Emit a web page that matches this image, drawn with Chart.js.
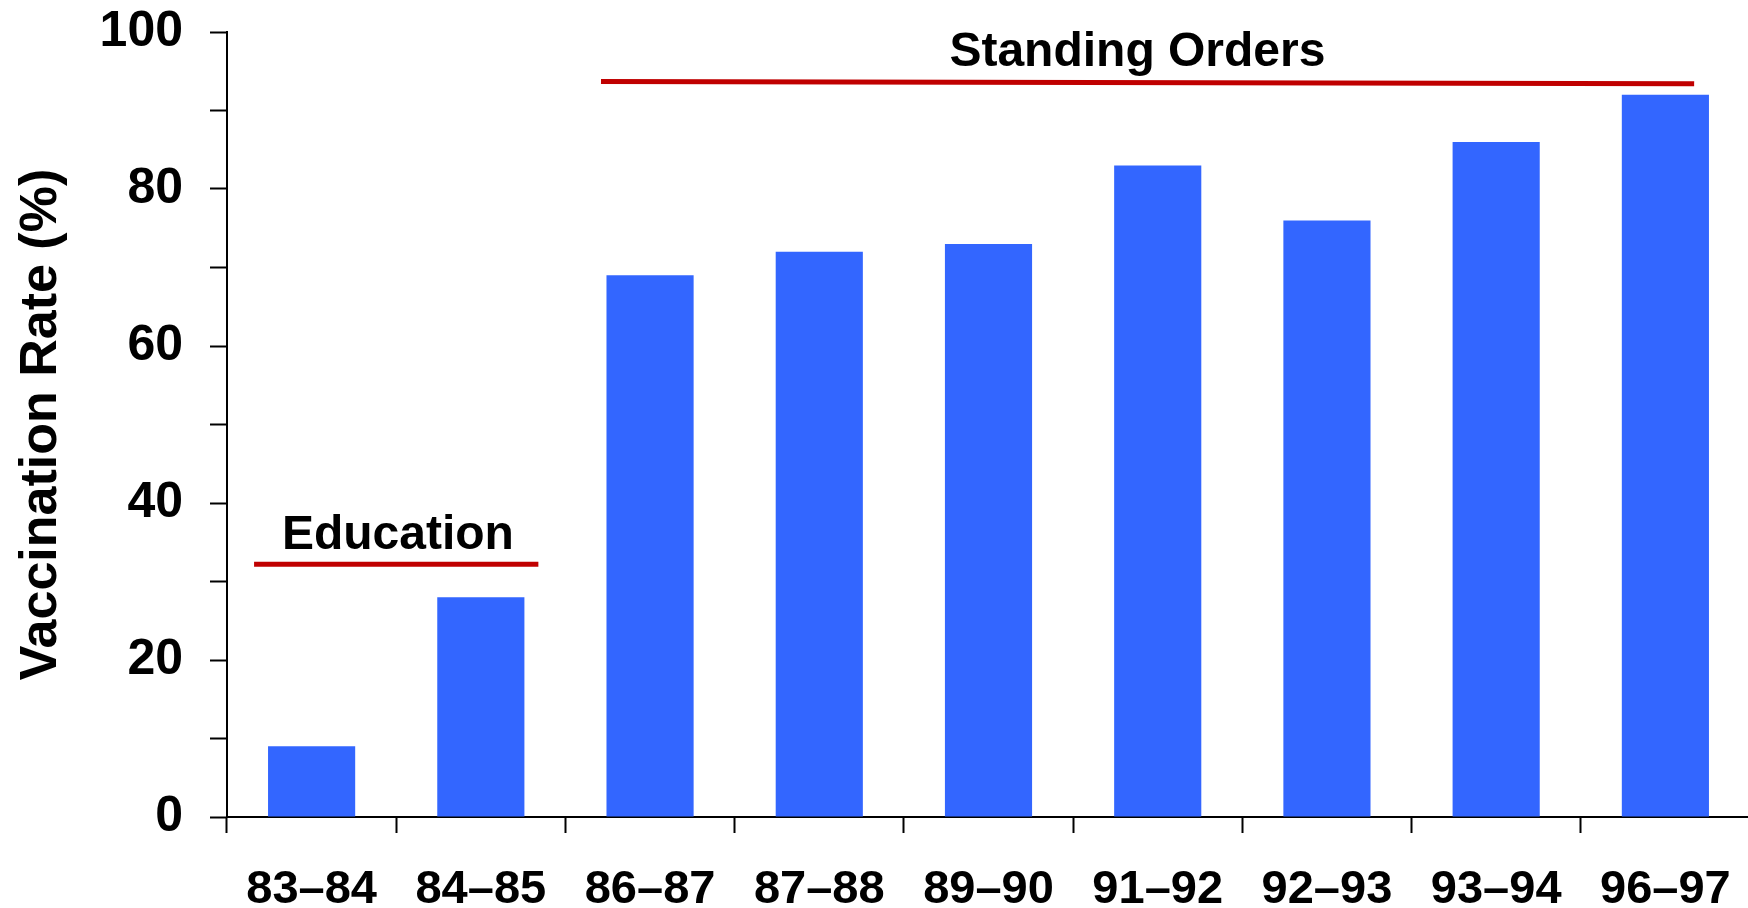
<!DOCTYPE html>
<html>
<head>
<meta charset="utf-8">
<script src="https://cdn.jsdelivr.net/npm/chart.js@4.4.1/dist/chart.umd.min.js"></script>
<style>
  html, body { margin: 0; padding: 0; background: #fff; overflow: hidden; }
  canvas { display: block; }
</style>
</head>
<body>
<canvas id="chart" width="1750" height="908"></canvas>
<script>
// seasons and vaccination rate (%)
const seasons = ['83–84', '84–85', '86–87', '87–88', '89–90', '91–92', '92–93', '93–94', '96–97'];
const rates = [9, 28, 69, 72, 73, 83, 76, 86, 92];
const yTicks = [0, 20, 40, 60, 80, 100];

// intervention periods: span in category units, level in %
const phaseNames = ['Education', 'Standing Orders'];
const phaseStart = [-0.34, 1.71];
const phaseEnd = [1.34, 8.17];
const phaseLevelStart = [32.2, 93.7];
const phaseLevelEnd = [32.2, 93.4];
const phaseLabelAt = [0.51, 4.88];

const FONT = "'Liberation Sans', Arial, Helvetica, sans-serif";

const phasePlugin = {
  id: 'phases',
  afterDatasetsDraw(chart) {
    const ctx = chart.ctx;
    const x = chart.scales.x, y = chart.scales.y;
    ctx.save();
    for (let i = 0; i < phaseNames.length; i++) {
      const x1 = x.getPixelForValue(phaseStart[i]);
      const x2 = x.getPixelForValue(phaseEnd[i]);
      const y1 = y.getPixelForValue(phaseLevelStart[i]);
      const y2 = y.getPixelForValue(phaseLevelEnd[i]);
      ctx.strokeStyle = '#C00000';
      ctx.lineWidth = 5;
      ctx.beginPath();
      ctx.moveTo(x1, y1);
      ctx.lineTo(x2, y2);
      ctx.stroke();
      ctx.fillStyle = '#000';
      ctx.font = 'bold 48px ' + FONT;
      ctx.textAlign = 'center';
      ctx.textBaseline = 'alphabetic';
      ctx.fillText(phaseNames[i], x.getPixelForValue(phaseLabelAt[i]), Math.min(y1, y2) - 15);
    }
    ctx.restore();
  }
};

new Chart(document.getElementById('chart'), {
  type: 'bar',
  data: {
    labels: seasons,
    datasets: [{
      data: rates,
      backgroundColor: '#3366FF',
      borderWidth: 0,
      categoryPercentage: 1,
      barPercentage: 0.515
    }]
  },
  options: {
    responsive: false,
    animation: false,
    devicePixelRatio: 1,
    layout: { padding: { top: 32, left: 0, right: 0, bottom: 0 } },
    plugins: { legend: { display: false }, tooltip: { enabled: false } },
    scales: {
      x: {
        grid: { display: true, drawOnChartArea: false, offset: true, tickLength: 16, tickColor: '#000', tickWidth: 2 },
        border: { display: true, color: '#000', width: 2 },
        ticks: { color: '#000', font: { family: FONT, size: 47, weight: 'bold' }, padding: 29, maxRotation: 0, autoSkip: false },
        afterFit(scale) { scale.height = 91; scale.paddingLeft = 0; scale.paddingRight = 0; }
      },
      y: {
        min: 0,
        max: 100,
        grid: { display: true, drawOnChartArea: false, tickLength: 17, tickColor: '#000', tickWidth: 2 },
        border: { display: true, color: '#000', width: 2 },
        ticks: {
          stepSize: 10,
          autoSkip: false,
          color: '#000',
          padding: 27,
          font: { family: FONT, size: 50, weight: 'bold' },
          callback: v => yTicks.includes(v) ? String(v) : ''
        },
        title: {
          display: true,
          text: 'Vaccination Rate (%)',
          color: '#000',
          font: { family: FONT, size: 52, weight: 'bold' },
          padding: { top: 10, bottom: 0 }
        },
        afterFit(scale) { scale.width = 227; scale.paddingTop = 0; scale.paddingBottom = 0; }
      }
    }
  },
  plugins: [phasePlugin]
});
</script>
</body>
</html>
